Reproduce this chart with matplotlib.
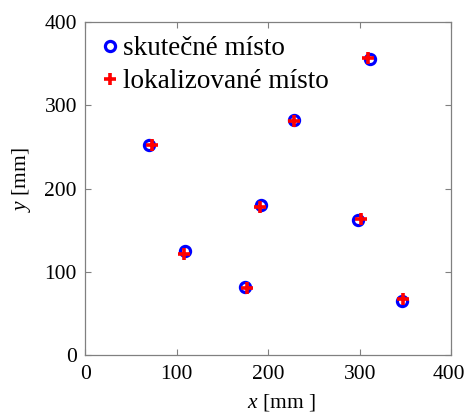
import matplotlib
matplotlib.use("Agg")
import matplotlib.pyplot as plt
from matplotlib.transforms import ScaledTranslation

plt.rcParams['font.family'] = ['Liberation Serif', 'DejaVu Serif']
plt.rcParams['mathtext.fontset'] = 'custom'
plt.rcParams['mathtext.it'] = 'Liberation Serif:italic'
plt.rcParams['mathtext.rm'] = 'Liberation Serif'

# true positions
true_x = [70, 109, 174.5, 192.5, 228.5, 311, 298.5, 346]
true_y = [253, 125, 81.5, 180.5, 283, 356, 162, 65]
# localized positions
loc_x = [72.5, 108, 176.5, 191, 228.5, 308.5, 301, 347.5]
loc_y = [252.5, 122, 81, 178, 281, 356.5, 163.5, 67]

labels = ['skutečné místo', 'lokalizované místo']
ticks = [0, 100, 200, 300, 400]

fig = plt.figure(figsize=(4.66, 4.12), dpi=100)
ax = fig.add_axes([85.3 / 466, 1 - 355 / 412, 366 / 466, 332.7 / 412])

ax.plot(true_x, true_y, linestyle='none', marker='o', markersize=7.3,
        markerfacecolor='none', markeredgecolor='#0000ff', markeredgewidth=2.3,
        label=labels[0])
ax.plot(loc_x, loc_y, linestyle='none', marker='+', markersize=8,
        color='#ff0000', markeredgewidth=2.6, label=labels[1])

ax.set_xlim(0, 400)
ax.set_ylim(0, 400)
ax.set_xticks(ticks)
ax.set_yticks(ticks)
ax.tick_params(direction='in', length=4, width=0.8, color='#808080',
               top=True, right=True, labelsize=15.5)
ax.tick_params(axis='x', pad=7)
ax.tick_params(axis='y', pad=6)
for s in ax.spines.values():
    s.set_color('#808080')
    s.set_linewidth(0.9)

# keep the last x tick label inside the canvas
last = ax.get_xticklabels()[-1]
last.set_transform(last.get_transform() +
                   ScaledTranslation(-2 / 100, 0, fig.dpi_scale_trans))

ax.set_xlabel(r'$x$ [mm ]', fontsize=15.5)
ax.set_ylabel(r'$y$ [mm]', fontsize=15.5)
ax.xaxis.set_label_coords(0.535, -0.112)
ax.yaxis.set_label_coords(-0.142, 0.526)

ax.legend(loc='upper left', bbox_to_anchor=(0.049, 0.958), frameon=False,
          fontsize=19.5, handlelength=0.5, handletextpad=0.23,
          borderaxespad=0, borderpad=0, labelspacing=0.3)

fig.savefig('out.png', dpi=100)
